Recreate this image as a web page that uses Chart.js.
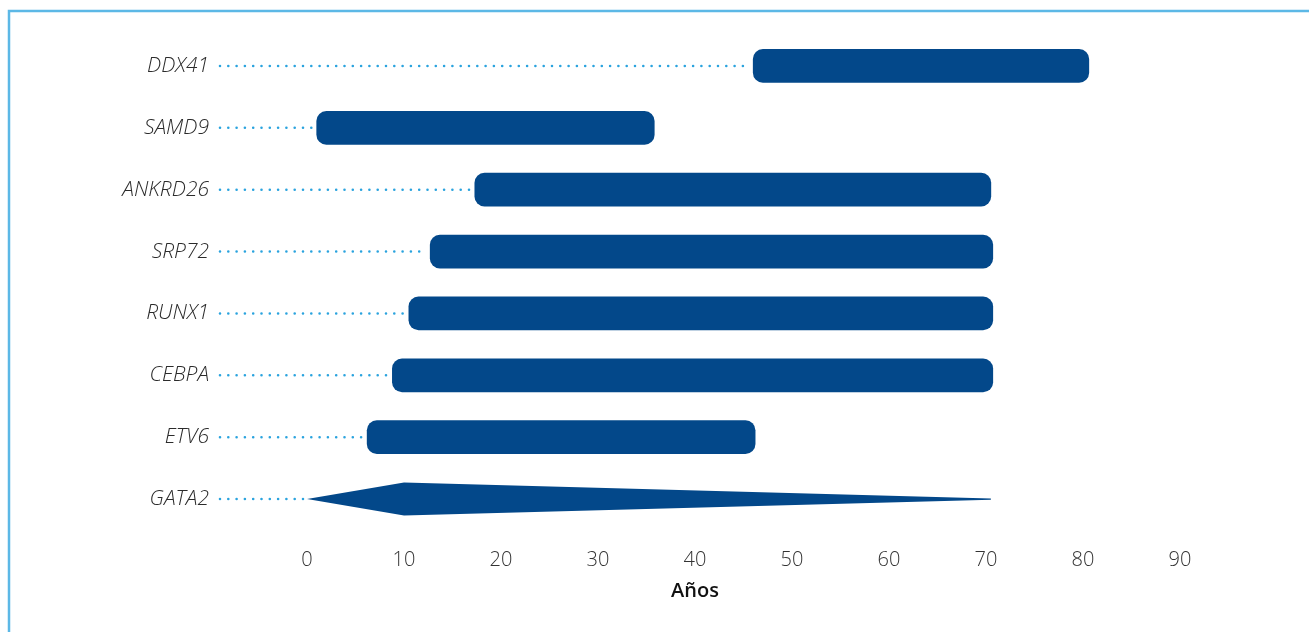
<!DOCTYPE html>
<html lang="es">
<head>
<meta charset="utf-8">
<title>Edad de presentación por gen</title>
<script src="https://cdn.jsdelivr.net/npm/chart.js@4"></script>
<style>
  html, body { margin: 0; padding: 0; background: #ffffff; }
  canvas { display: block; }
</style>
</head>
<body>
<canvas id="chart" width="1309" height="632"></canvas>
<script>
// Genes y rango de edad (años) en que se presenta cada uno
const genes = ['DDX41', 'SAMD9', 'ANKRD26', 'SRP72', 'RUNX1', 'CEBPA', 'ETV6', 'GATA2'];
const edadInicio = [46, 1, 17.3, 12.7, 10.5, 8.8, 6.2, 0];
const edadFin = [80.6, 35.8, 70.5, 70.7, 70.7, 70.7, 46.2, 70.5];
// GATA2 se dibuja como un huso: máximo grosor a esta edad
const gata2EdadPico = 10;
const ticksEdad = [0, 10, 20, 30, 40, 50, 60, 70, 80, 90];
const tituloEje = 'Años';

const AZUL_BARRA = '#03488a';
const AZUL_PUNTOS = '#2aa3de';
const AZUL_MARCO = '#5cb8e6';
const FUENTE = "'Open Sans', sans-serif";

// Marco superior e izquierdo de la figura
const marco = {
  id: 'marco',
  beforeDraw(chart) {
    const ctx = chart.ctx;
    ctx.save();
    ctx.strokeStyle = AZUL_MARCO;
    ctx.lineWidth = 2.5;
    ctx.beginPath();
    ctx.moveTo(9, chart.height);
    ctx.lineTo(9, 11);
    ctx.lineTo(chart.width, 11);
    ctx.stroke();
    ctx.restore();
  }
};

// Líneas punteadas desde la etiqueta del gen hasta el inicio de su barra
const guias = {
  id: 'guias',
  beforeDatasetsDraw(chart) {
    const ctx = chart.ctx;
    const meta = chart.getDatasetMeta(0);
    const inicioX = chart.chartArea.left - 87;
    ctx.save();
    ctx.strokeStyle = AZUL_PUNTOS;
    ctx.lineWidth = 2.6;
    ctx.lineCap = 'round';
    ctx.setLineDash([0, 8.3]);
    meta.data.forEach((el) => {
      const props = el.getProps(['x', 'y', 'base'], true);
      const fin = Math.min(props.x, props.base) - 3;
      ctx.beginPath();
      ctx.moveTo(inicioX, props.y);
      ctx.lineTo(fin, props.y);
      ctx.stroke();
    });
    ctx.restore();
  }
};

// Huso de GATA2 construido sobre su barra flotante
const husoGata2 = {
  id: 'husoGata2',
  afterDatasetsDraw(chart) {
    const idx = genes.indexOf('GATA2');
    const el = chart.getDatasetMeta(0).data[idx];
    if (!el) return;
    const p = el.getProps(['x', 'y', 'base', 'height'], true);
    const xPico = chart.scales.x.getPixelForValue(gata2EdadPico);
    const medio = p.height / 2;
    const ctx = chart.ctx;
    ctx.save();
    ctx.fillStyle = AZUL_BARRA;
    ctx.beginPath();
    ctx.moveTo(p.base, p.y);
    ctx.lineTo(xPico, p.y - medio);
    ctx.lineTo(p.x, p.y - 0.6);
    ctx.lineTo(p.x, p.y + 0.6);
    ctx.lineTo(xPico, p.y + medio);
    ctx.closePath();
    ctx.fill();
    ctx.restore();
  }
};

// Título del eje X centrado bajo el tramo 0–80 años
const tituloX = {
  id: 'tituloX',
  afterDraw(chart) {
    const x = chart.scales.x;
    const cx = (x.getPixelForValue(ticksEdad[0]) + x.getPixelForValue(ticksEdad[ticksEdad.length - 2])) / 2;
    const ctx = chart.ctx;
    ctx.save();
    ctx.fillStyle = '#111111';
    ctx.font = `600 20px ${FUENTE}`;
    ctx.textAlign = 'center';
    ctx.textBaseline = 'middle';
    ctx.fillText(tituloEje, cx, x.bottom - 11);
    ctx.restore();
  }
};

const colores = genes.map((g) => (g === 'GATA2' ? 'rgba(0,0,0,0)' : AZUL_BARRA));

new Chart(document.getElementById('chart'), {
  type: 'bar',
  data: {
    labels: genes,
    datasets: [{
      data: genes.map((g, i) => [edadInicio[i], edadFin[i]]),
      backgroundColor: colores,
      borderWidth: 0,
      borderRadius: 10,
      borderSkipped: false,
      barThickness: 33
    }]
  },
  options: {
    indexAxis: 'y',
    responsive: false,
    devicePixelRatio: 1,
    animation: false,
    layout: { padding: { left: 0, right: 129, top: 35, bottom: 30 } },
    plugins: {
      legend: { display: false },
      tooltip: { enabled: false }
    },
    scales: {
      x: {
        type: 'linear',
        min: 0,
        max: 90,
        border: { display: false },
        grid: { display: false, drawTicks: false },
        afterBuildTicks(scale) {
          scale.ticks = ticksEdad.map((v) => ({ value: v }));
        },
        afterFit(scale) {
          scale.height = 72;
          scale.paddingLeft = 0;
          scale.paddingRight = 0;
        },
        ticks: {
          padding: 18,
          color: '#333333',
          font: { family: FUENTE, size: 20, weight: 300 }
        }
      },
      y: {
        type: 'category',
        border: { display: false },
        grid: { display: false, drawTicks: false },
        afterFit(scale) {
          scale.width = 307;
          scale.paddingTop = 0;
          scale.paddingBottom = 0;
        },
        ticks: {
          padding: 98,
          color: '#2b2b2b',
          font: { family: FUENTE, size: 21, style: 'italic', weight: 300 }
        }
      }
    }
  },
  plugins: [marco, guias, husoGata2, tituloX]
});
</script>
</body>
</html>
